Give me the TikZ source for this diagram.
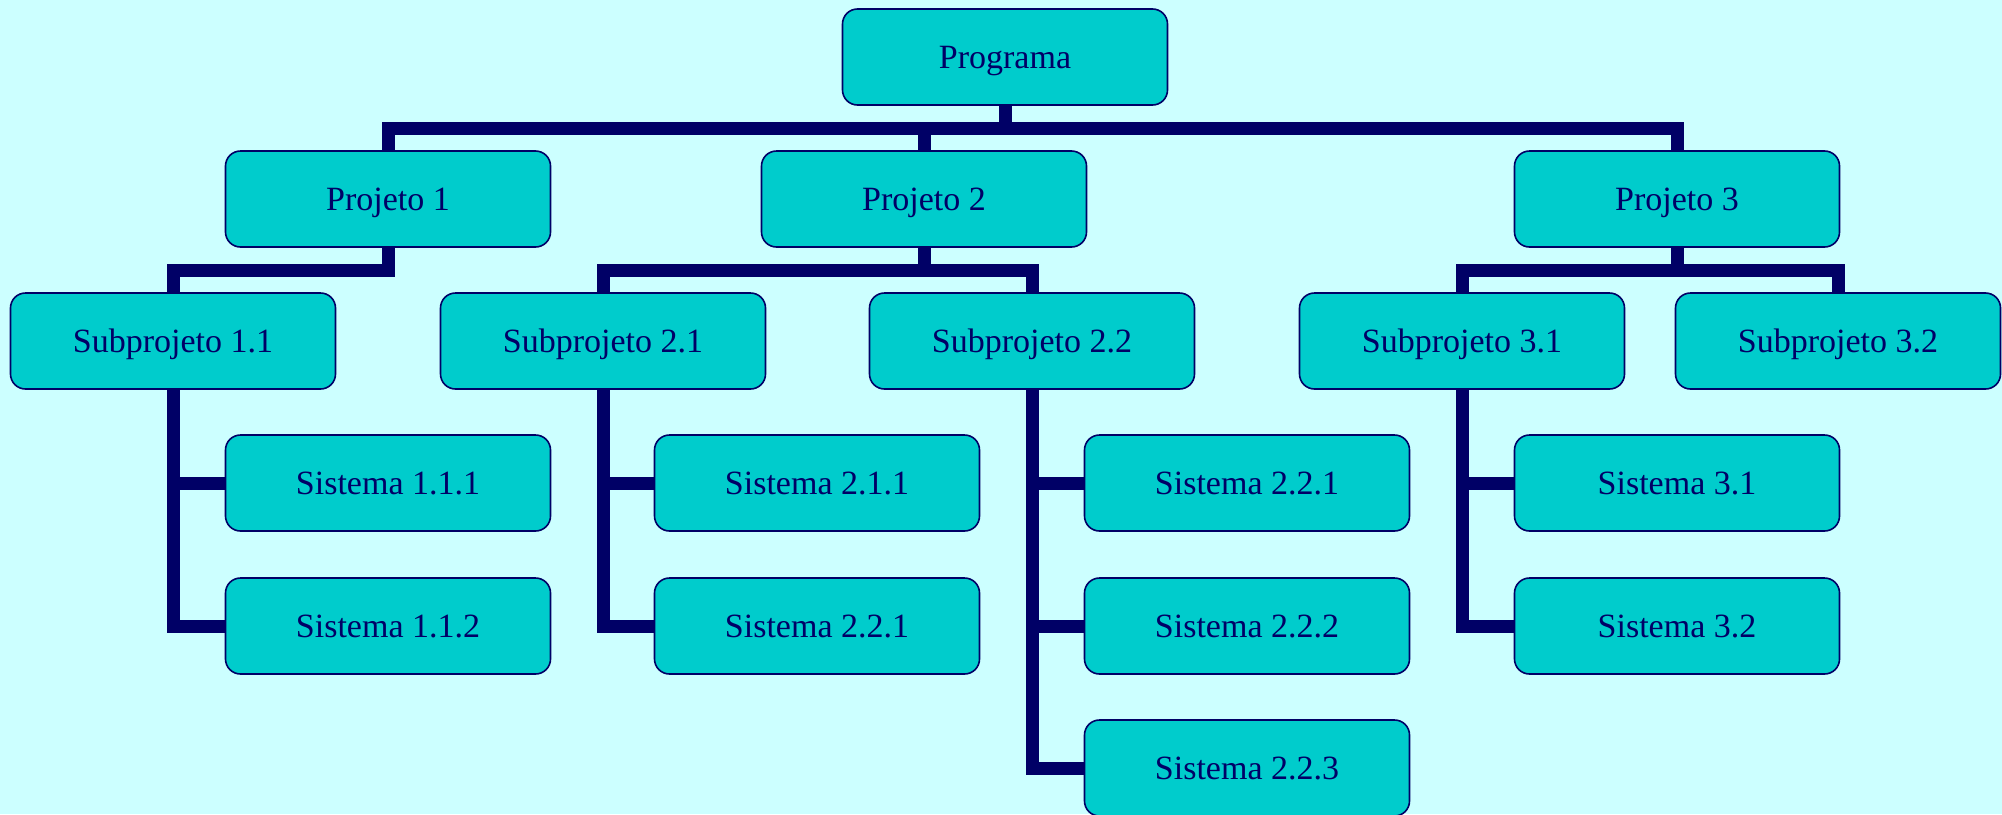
\documentclass[tikz,border=0pt]{standalone}
\usepackage{fontspec}
\setmainfont{Liberation Serif}
\usetikzlibrary{calc}
\definecolor{bgc}{HTML}{CCFFFF}
\definecolor{boxc}{HTML}{00CCCC}
\definecolor{navy}{HTML}{000066}
\tikzset{
 box/.style={draw=navy, line width=0.8pt, fill=boxc, rounded corners=7.5pt, minimum width=162.5pt, minimum height=48pt, inner sep=0pt, text=navy, font=\fontsize{17}{20}\selectfont, text height=11.3pt, text depth=0pt},
 conn/.style={draw=navy, line width=6.5pt},
 tree/.style={to path={(\tikztostart) -- ($(\tikztostart)!0.5!(\tikztostart |- \tikztotarget)$) -| (\tikztotarget)}},
}
\begin{document}
\begin{tikzpicture}[x=0.5pt,y=-0.5pt]
\fill[bgc] (0,0) rectangle (2002,814);
\useasboundingbox (0,0) rectangle (2002,814);
\clip (0,0) rectangle (2002,814);
% nodes
\node[box] (prog) at (1005,57) {Programa};
\node[box] (p1) at (388,199) {Projeto 1};
\node[box] (p2) at (924,199) {Projeto 2};
\node[box] (p3) at (1677,199) {Projeto 3};
\node[box] (s11) at (173,341) {Subprojeto 1.1};
\node[box] (s21) at (603,341) {Subprojeto 2.1};
\node[box] (s22) at (1032,341) {Subprojeto 2.2};
\node[box] (s31) at (1462,341) {Subprojeto 3.1};
\node[box] (s32) at (1838,341) {Subprojeto 3.2};
\node[box] (a111) at (388,483) {Sistema 1.1.1};
\node[box] (a112) at (388,626) {Sistema 1.1.2};
\node[box] (a211) at (817,483) {Sistema 2.1.1};
\node[box] (a212) at (817,626) {Sistema 2.2.1};
\node[box] (a221) at (1247,483) {Sistema 2.2.1};
\node[box] (a222) at (1247,626) {Sistema 2.2.2};
\node[box] (a223) at (1247,768) {Sistema 2.2.3};
\node[box] (a31) at (1677,483) {Sistema 3.1};
\node[box] (a32) at (1677,626) {Sistema 3.2};
% connectors
\draw[conn] (prog.south) to[tree] (p1.north);
\draw[conn] (prog.south) to[tree] (p2.north);
\draw[conn] (prog.south) to[tree] (p3.north);
\draw[conn] (p1.south) to[tree] (s11.north);
\draw[conn] (p2.south) to[tree] (s21.north);
\draw[conn] (p2.south) to[tree] (s22.north);
\draw[conn] (p3.south) to[tree] (s31.north);
\draw[conn] (p3.south) to[tree] (s32.north);
\draw[conn] (s11.south) |- (a111.west);
\draw[conn] (s11.south) |- (a112.west);
\draw[conn] (s21.south) |- (a211.west);
\draw[conn] (s21.south) |- (a212.west);
\draw[conn] (s22.south) |- (a221.west);
\draw[conn] (s22.south) |- (a222.west);
\draw[conn] (s22.south) |- (a223.west);
\draw[conn] (s31.south) |- (a31.west);
\draw[conn] (s31.south) |- (a32.west);
\end{tikzpicture}
\end{document}
